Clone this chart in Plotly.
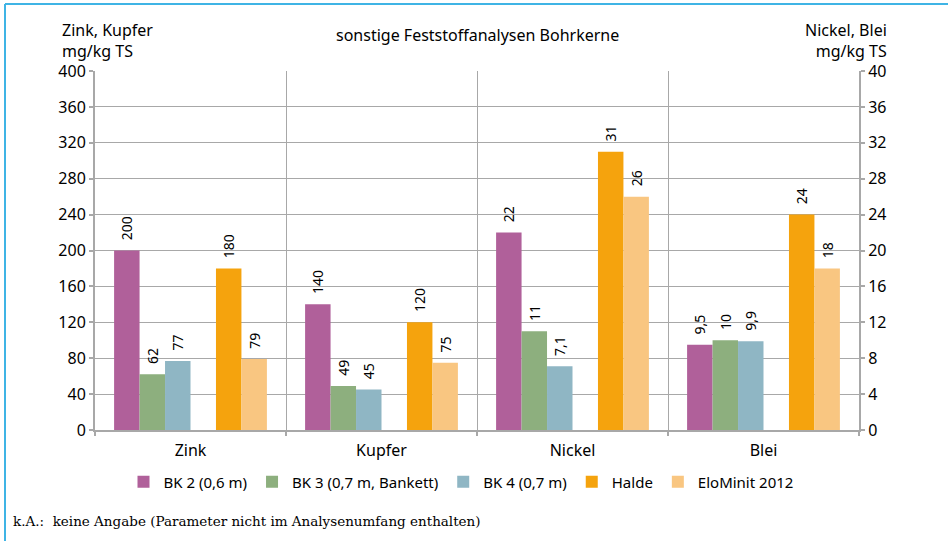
import plotly.graph_objects as go

categories_left = ["Zink", "Kupfer"]
categories_right = ["Nickel", "Blei"]
all_categories = ["Zink", "Kupfer", "Nickel", "Blei"]

series_names = ["BK 2 (0,6 m)", "BK 3 (0,7 m, Bankett)", "BK 4 (0,7 m)", "Halde", "EloMinit 2012"]
series_colors = ["#B0609A", "#8DAF7E", "#8FB6C4", "#F5A30D", "#F9C681"]
series_slots = [0, 1, 2, 4, 5]

# Zink, Kupfer in mg/kg TS (left axis)
vals_left = {
    "BK 2 (0,6 m)": [200, 140],
    "BK 3 (0,7 m, Bankett)": [62, 49],
    "BK 4 (0,7 m)": [77, 45],
    "Halde": [180, 120],
    "EloMinit 2012": [79, 75],
}
# Nickel, Blei in mg/kg TS (right axis)
vals_right = {
    "BK 2 (0,6 m)": [22, 9.5],
    "BK 3 (0,7 m, Bankett)": [11, 10],
    "BK 4 (0,7 m)": [7.1, 9.9],
    "Halde": [31, 24],
    "EloMinit 2012": [26, 18],
}

left_ticks = list(range(0, 401, 40))
right_ticks = list(range(0, 41, 4))

W, H = 948, 541
ML, MR, MT, MB = 95, 89, 71, 111
PW = W - ML - MR
PH = H - MT - MB

def px_x(x):
    return (x - ML) / PW

def px_y(y):
    return 1 - (y - MT) / PH

def fmt(v):
    return "\u00a0\u00a0" + f"{v:g}".replace(".", ",")

FONT = "Noto Sans"
bw = 0.8 / 6

fig = go.Figure()
for name, color, slot in zip(series_names, series_colors, series_slots):
    off = -0.4 + slot * bw
    fig.add_trace(go.Bar(
        x=categories_left, y=vals_left[name], name=name, legendgroup=name,
        marker=dict(color=color, line=dict(width=0)),
        width=bw, offset=off, yaxis="y",
        text=[fmt(v) for v in vals_left[name]], textposition="outside",
        textangle=-90, constraintext="none",
        textfont=dict(family=FONT, size=14, color="#000000"),
        cliponaxis=False, showlegend=True,
    ))
    fig.add_trace(go.Bar(
        x=categories_right, y=vals_right[name], name=name, legendgroup=name,
        marker=dict(color=color, line=dict(width=0)),
        width=bw, offset=off, yaxis="y2",
        text=[fmt(v) for v in vals_right[name]], textposition="outside",
        textangle=-90, constraintext="none",
        textfont=dict(family=FONT, size=14, color="#000000"),
        cliponaxis=False, showlegend=False,
    ))

GRID = "#A8A8A8"
TICKFONT = dict(family=FONT, size=16, color="#000000")
fig.update_layout(
    width=W, height=H,
    margin=dict(l=ML, r=MR, t=MT, b=MB, pad=0),
    paper_bgcolor="white", plot_bgcolor="white",
    barmode="overlay",
    font=dict(family=FONT, size=16, color="#000000"),
    xaxis=dict(
        type="category", categoryorder="array", categoryarray=all_categories,
        range=[-0.5, 3.5], tickson="boundaries",
        showgrid=True, gridcolor=GRID, gridwidth=1,
        showline=True, linecolor=GRID, linewidth=2,
        ticks="outside", ticklen=4, tickcolor=GRID, tickwidth=2,
        ticklabelstandoff=5,
        tickfont=TICKFONT, zeroline=False,
    ),
    yaxis=dict(
        range=[0, 400], tickvals=left_ticks,
        showgrid=True, gridcolor=GRID, gridwidth=1,
        showline=True, linecolor=GRID, linewidth=2,
        ticks="outside", ticklen=4, tickcolor=GRID, tickwidth=2,
        tickfont=TICKFONT, zeroline=False,
    ),
    yaxis2=dict(
        range=[0, 40], tickvals=right_ticks, overlaying="y", side="right",
        showgrid=False, showline=True, linecolor=GRID, linewidth=2,
        ticks="outside", ticklen=4, tickcolor=GRID, tickwidth=2,
        tickfont=TICKFONT, zeroline=False,
    ),
    legend=dict(
        orientation="h", x=px_x(461), xanchor="center",
        y=px_y(482), yanchor="middle",
        font=dict(family=FONT, size=15), itemwidth=30,
        bgcolor="rgba(0,0,0,0)", traceorder="normal",
    ),
    annotations=[
        dict(text="sonstige Feststoffanalysen Bohrkerne", xref="paper", yref="paper",
             x=px_x(477), y=px_y(35), xanchor="center", yanchor="middle",
             showarrow=False, font=dict(family=FONT, size=16)),
        dict(text="Zink, Kupfer<br>mg/kg TS", xref="paper", yref="paper", align="left",
             x=px_x(60), y=px_y(41), xanchor="left", yanchor="middle",
             showarrow=False, font=dict(family=FONT, size=16)),
        dict(text="Nickel, Blei<br>mg/kg TS", xref="paper", yref="paper", align="right",
             x=px_x(889), y=px_y(41), xanchor="right", yanchor="middle",
             showarrow=False, font=dict(family=FONT, size=16)),
        dict(text="k.A.:  keine Angabe (Parameter nicht im Analysenumfang enthalten)",
             xref="paper", yref="paper",
             x=px_x(11), y=px_y(521), xanchor="left", yanchor="middle",
             showarrow=False, font=dict(family="DejaVu Serif", size=13.5, color="#000000")),
    ],
    shapes=[
        dict(type="line", xref="paper", yref="paper",
             x0=px_x(5), x1=px_x(W), y0=px_y(4), y1=px_y(4),
             line=dict(color="#3FB4E5", width=2)),
        dict(type="line", xref="paper", yref="paper",
             x0=px_x(5), x1=px_x(5), y0=px_y(4), y1=px_y(H),
             line=dict(color="#3FB4E5", width=2)),
    ],
)

fig.write_html("out.html", config={"displayModeBar": False},
               post_script="document.body.style.margin='0px';")
